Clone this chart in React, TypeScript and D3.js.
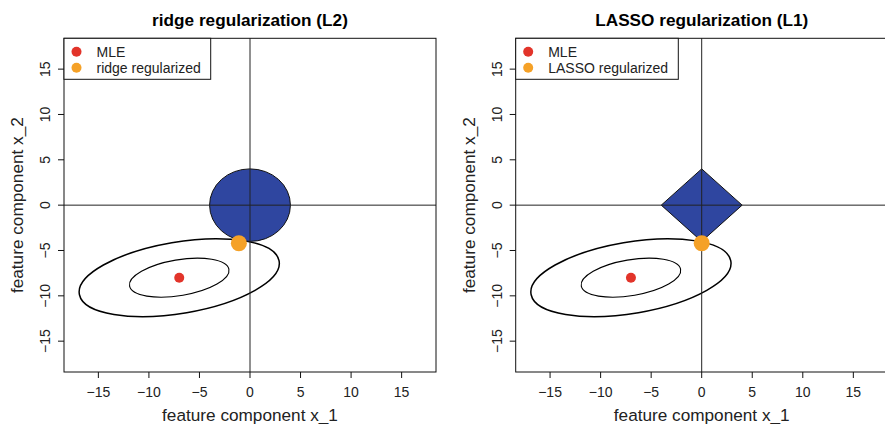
import React from "react";
import * as d3 from "d3";

// values
const panelTitles = ["ridge regularization (L2)", "LASSO regularization (L1)"];
const legendLabels = [["MLE", "ridge regularized"], ["MLE", "LASSO regularized"]];
const constraintShapes = ["circle", "diamond"];
const axisTicks = [-15, -10, -5, 0, 5, 10, 15];
const axisLimits = [-18.4, 18.4];
const mleEstimate = [-7, -8];
const regularizedEstimates = [[-1.1, -4.2], [0, -4.2]];
const constraintRadius = 4;
const contourCenter = [-7, -8];
const contourSemiAxes = [[5.0, 1.97], [10.05, 3.93]];
const contourAngle = 10.8; // degrees, data space

const W = 885;
const H = 424;
const panelOffset = 451.7;
const margin = { top: 38.3, left: 64, width: 372, height: 333.7 };

const font = "'Liberation Sans', Arial, Helvetica, sans-serif";
const blue = "#2F46A0";
const red = "#E2342A";
const orange = "#F5A127";
const fmt = d3.format("d");

const Panel = ({ idx }: { idx: number }) => {
  const x = d3.scaleLinear().domain(axisLimits).range([margin.left, margin.left + margin.width]);
  const y = d3.scaleLinear().domain(axisLimits).range([margin.top + margin.height, margin.top]);
  const kx = x(1) - x(0);
  const ky = y(0) - y(1);
  const bottom = margin.top + margin.height;
  const right = margin.left + margin.width;
  const est = regularizedEstimates[idx];
  const labels = legendLabels[idx];
  const legendW = idx === 0 ? 146.7 : 162.6;

  const diamond = [
    [constraintRadius, 0],
    [0, constraintRadius],
    [-constraintRadius, 0],
    [0, -constraintRadius],
  ];

  return (
    <g transform={`translate(${idx * panelOffset},0)`}>
      <text x={x(0)} y={25.5} textAnchor="middle" fontFamily={font} fontWeight="bold" fontSize={17.2}>
        {panelTitles[idx]}
      </text>

      {/* contour ellipses around the MLE */}
      {contourSemiAxes.map(([a, b], i) => (
        <g key={i} transform={`translate(${x(contourCenter[0])},${y(contourCenter[1])}) scale(${kx},${-ky}) rotate(${contourAngle})`}>
          <ellipse rx={a} ry={b} fill="none" stroke="#000" strokeWidth={i === 0 ? 1.1 : 1.5} vectorEffect="non-scaling-stroke" />
        </g>
      ))}

      {/* constraint region */}
      {constraintShapes[idx] === "circle" ? (
        <ellipse cx={x(0)} cy={y(0)} rx={constraintRadius * kx} ry={constraintRadius * ky}
          fill={blue} stroke="#111" strokeWidth={1} />
      ) : (
        <polygon points={diamond.map((d) => `${x(d[0])},${y(d[1])}`).join(" ")}
          fill={blue} stroke="#111" strokeWidth={1} />
      )}

      {/* zero lines */}
      <line x1={margin.left} x2={right} y1={y(0)} y2={y(0)} stroke="#222" strokeWidth={1} />
      <line x1={x(0)} x2={x(0)} y1={margin.top} y2={bottom} stroke="#222" strokeWidth={1} />

      <circle cx={x(mleEstimate[0])} cy={y(mleEstimate[1])} r={5} fill={red} />
      <circle cx={x(est[0])} cy={y(est[1])} r={8} fill={orange} />

      {/* box */}
      <rect x={margin.left} y={margin.top} width={margin.width} height={margin.height}
        fill="none" stroke="#111" strokeWidth={1} />

      {/* x axis */}
      {axisTicks.map((t) => (
        <g key={"x" + t}>
          <line x1={x(t)} x2={x(t)} y1={bottom} y2={bottom + 6} stroke="#111" />
          <text x={x(t)} y={396.5} textAnchor="middle" fontFamily={font} fontSize={14} fill="#222">
            {fmt(t)}
          </text>
        </g>
      ))}
      <text x={x(0)} y={421} textAnchor="middle" fontFamily={font} fontSize={17.2} fill="#222">
        feature component x_1
      </text>

      {/* y axis */}
      {axisTicks.map((t) => (
        <g key={"y" + t}>
          <line x1={margin.left - 6} x2={margin.left} y1={y(t)} y2={y(t)} stroke="#111" />
          <text transform={`translate(50,${y(t)}) rotate(-90)`} textAnchor="middle" fontFamily={font} fontSize={14} fill="#222">
            {fmt(t)}
          </text>
        </g>
      ))}
      <text transform={`translate(23,${y(0)}) rotate(-90)`} textAnchor="middle" fontFamily={font} fontSize={17.2} fill="#222">
        feature component x_2
      </text>

      {/* legend */}
      <rect x={margin.left} y={margin.top} width={legendW} height={41} fill="#fff" stroke="#111" strokeWidth={1} />
      {labels.map((l, i) => (
        <g key={l}>
          <circle cx={margin.left + 12.5} cy={margin.top + 13.4 + i * 16} r={5} fill={i === 0 ? red : orange} />
          <text x={margin.left + 32.5} y={margin.top + 18.4 + i * 16} fontFamily={font} fontSize={14} fill="#222">
            {l}
          </text>
        </g>
      ))}
    </g>
  );
};

export default function App() {
  return (
    <svg width={W} height={H} style={{ position: "absolute", left: 0, top: 0, background: "#fff" }}>
      {panelTitles.map((_, i) => (
        <Panel key={i} idx={i} />
      ))}
    </svg>
  );
}
